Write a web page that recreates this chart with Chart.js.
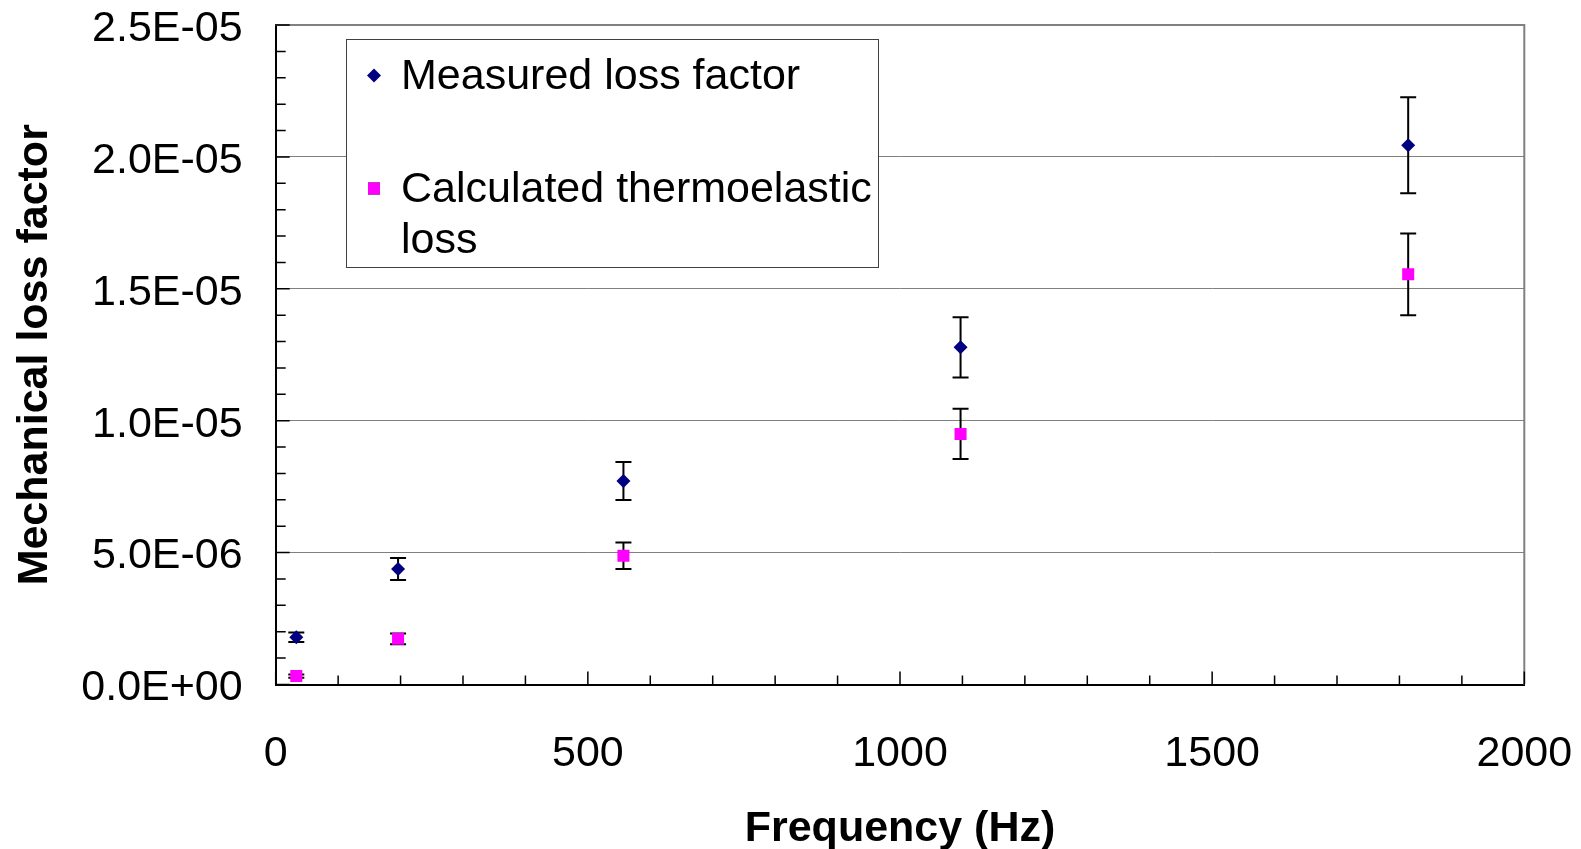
<!DOCTYPE html>
<html lang="en">
<head>
  <meta charset="UTF-8" />
  <title>Mechanical loss factor vs frequency</title>
  <script src="https://cdn.jsdelivr.net/npm/chart.js"></script>
  <style>
    body {
      margin: 0;
      background: white;
    }
    #lossChart {
      display: block;
    }
  </style>
</head>

<body>
  <canvas id="lossChart" width="1581" height="849"></canvas>

  <script>
    // values (frequency in Hz, loss factor dimensionless)
    const frequencies = [33, 196, 557, 1097, 1814];
    const measuredLoss = [1.79e-6, 4.38e-6, 7.71e-6, 12.78e-6, 20.44e-6];
    const measuredErr = [0.18e-6, 0.42e-6, 0.72e-6, 1.14e-6, 1.82e-6];
    const thermoLoss = [0.32e-6, 1.73e-6, 4.88e-6, 9.50e-6, 15.55e-6];
    const thermoErr = [0.06e-6, 0.20e-6, 0.50e-6, 0.95e-6, 1.55e-6];

    const seriesNames = ["Measured loss factor", "Calculated thermoelastic loss"];
    const xTickValues = [0, 500, 1000, 1500, 2000];
    const yTickValues = [0, 5e-6, 1e-5, 1.5e-5, 2e-5, 2.5e-5];
    const xTitle = "Frequency (Hz)";
    const yTitle = "Mechanical loss factor";

    const FONT = '"Liberation Sans", Arial, sans-serif';
    Chart.defaults.font.family = FONT;
    Chart.defaults.color = "#000";

    function sciLabel(v) {
      if (Math.abs(v) < 1e-12) return "0.0E+00";
      const [m, e] = v.toExponential(1).split("e");
      const exp = parseInt(e, 10);
      const sign = exp < 0 ? "-" : "+";
      return m + "E" + sign + String(Math.abs(exp)).padStart(2, "0");
    }

    function toPoints(xs, ys) {
      return xs.map((x, i) => ({ x: x, y: ys[i] }));
    }

    // error bars, drawn under the markers
    const errorBars = {
      id: "errorBars",
      beforeDatasetsDraw(chart) {
        const ctx = chart.ctx;
        const xs = chart.scales.x, ys = chart.scales.y;
        ctx.save();
        ctx.strokeStyle = "#000";
        ctx.lineWidth = 2;
        chart.data.datasets.forEach(ds => {
          ds.data.forEach((p, i) => {
            const e = ds.errors[i];
            const px = xs.getPixelForValue(p.x);
            const top = ys.getPixelForValue(p.y + e);
            const bot = ys.getPixelForValue(p.y - e);
            ctx.beginPath();
            ctx.moveTo(px, top); ctx.lineTo(px, bot);
            ctx.moveTo(px - 8, top); ctx.lineTo(px + 8, top);
            ctx.moveTo(px - 8, bot); ctx.lineTo(px + 8, bot);
            ctx.stroke();
          });
        });
        ctx.restore();
      }
    };

    // frame, inward tick marks and the boxed legend
    const frameAndLegend = {
      id: "frameAndLegend",
      afterDatasetsDraw(chart) {
        const ctx = chart.ctx;
        const a = chart.chartArea;
        const xs = chart.scales.x, ys = chart.scales.y;
        ctx.save();

        // grey top and right border
        ctx.strokeStyle = "#808080";
        ctx.lineWidth = 2;
        ctx.beginPath();
        ctx.moveTo(a.left, a.top); ctx.lineTo(a.right, a.top); ctx.lineTo(a.right, a.bottom);
        ctx.stroke();

        // ticks pointing into the plot
        ctx.strokeStyle = "#000";
        ctx.lineWidth = 1.5;
        ctx.beginPath();
        for (let k = 0; k <= 20; k++) {
          const px = xs.getPixelForValue(k * 100);
          const len = k % 5 === 0 ? 13 : 9;
          ctx.moveTo(px, a.bottom); ctx.lineTo(px, a.bottom - len);
        }
        for (let k = 0; k <= 25; k++) {
          const py = ys.getPixelForValue(k * 1e-6);
          const len = k % 5 === 0 ? 14 : 10;
          ctx.moveTo(a.left, py); ctx.lineTo(a.left + len, py);
        }
        ctx.stroke();

        // legend box
        const box = { left: 346, top: 39, right: 878, bottom: 267 };
        ctx.fillStyle = "#fff";
        ctx.fillRect(box.left, box.top, box.right - box.left, box.bottom - box.top);
        ctx.strokeStyle = "#404040";
        ctx.lineWidth = 1;
        ctx.strokeRect(box.left + 0.5, box.top + 0.5, box.right - box.left, box.bottom - box.top);

        ctx.font = "43px " + FONT;
        ctx.textBaseline = "middle";
        ctx.textAlign = "left";
        const textLeft = 401;
        const rowY = [77, 190];
        const lineH = 51.5;
        chart.data.datasets.forEach((ds, i) => {
          Chart.helpers.drawPoint(ctx, {
            pointStyle: ds.pointStyle,
            radius: ds.pointRadius,
            borderWidth: 0,
            rotation: 0
          }, 374, rowY[i] - 1.5);
          ctx.fillStyle = ds.backgroundColor;
          ctx.fill();
          // simple word wrap inside the box
          const words = ds.label.split(" ");
          const lines = [];
          let cur = "";
          words.forEach(w => {
            const test = cur ? cur + " " + w : w;
            if (ctx.measureText(test).width > box.right - textLeft - 2 && cur) {
              lines.push(cur);
              cur = w;
            } else {
              cur = test;
            }
          });
          lines.push(cur);
          ctx.fillStyle = "#000";
          lines.forEach((ln, j) => ctx.fillText(ln, textLeft, rowY[i] + j * lineH));
        });
        ctx.restore();
      }
    };

    new Chart(document.getElementById("lossChart"), {
      type: "scatter",
      data: {
        datasets: [
          {
            label: seriesNames[0],
            data: toPoints(frequencies, measuredLoss),
            errors: measuredErr,
            pointStyle: "rectRot",
            pointRadius: 7,
            pointHoverRadius: 7,
            backgroundColor: "#000080",
            borderColor: "#000080",
            borderWidth: 0
          },
          {
            label: seriesNames[1],
            data: toPoints(frequencies, thermoLoss),
            errors: thermoErr,
            pointStyle: "rect",
            pointRadius: 8.5,
            pointHoverRadius: 8.5,
            backgroundColor: "#ff00ff",
            borderColor: "#ff00ff",
            borderWidth: 0
          }
        ]
      },
      options: {
        responsive: false,
        animation: false,
        devicePixelRatio: 1,
        layout: { padding: { left: 0, top: 25, right: 56.7, bottom: 0 } },
        plugins: {
          legend: { display: false },
          tooltip: { enabled: false }
        },
        scales: {
          x: {
            type: "linear",
            min: 0,
            max: 2000,
            afterBuildTicks: s => { s.ticks = xTickValues.map(v => ({ value: v })); },
            afterFit: s => {
              s.height = 164.5;
              s.paddingLeft = s.paddingRight = s.paddingTop = s.paddingBottom = 0;
            },
            ticks: {
              font: { size: 43 },
              padding: 44,
              maxRotation: 0,
              autoSkip: false,
              callback: v => String(v)
            },
            grid: { display: false, drawTicks: false },
            border: { display: true, color: "#000", width: 2 },
            title: {
              display: true,
              text: xTitle,
              font: { size: 43, weight: "bold", lineHeight: 0.9 },
              padding: { top: 0, bottom: 1 }
            }
          },
          y: {
            type: "linear",
            min: 0,
            max: 2.5e-5,
            afterBuildTicks: s => { s.ticks = yTickValues.map(v => ({ value: v })); },
            afterFit: s => {
              s.width = 275.7;
              s.paddingLeft = s.paddingRight = s.paddingTop = s.paddingBottom = 0;
            },
            ticks: {
              font: { size: 43 },
              padding: 33,
              labelOffset: 4,
              autoSkip: false,
              callback: v => sciLabel(v)
            },
            grid: { color: "#808080", lineWidth: 1, drawTicks: false },
            border: { display: true, color: "#000", width: 2 },
            title: {
              display: true,
              text: yTitle,
              font: { size: 43, weight: "bold", lineHeight: 1 },
              padding: { top: 14, bottom: 0 }
            }
          }
        }
      },
      plugins: [errorBars, frameAndLegend]
    });
  </script>
</body>
</html>
